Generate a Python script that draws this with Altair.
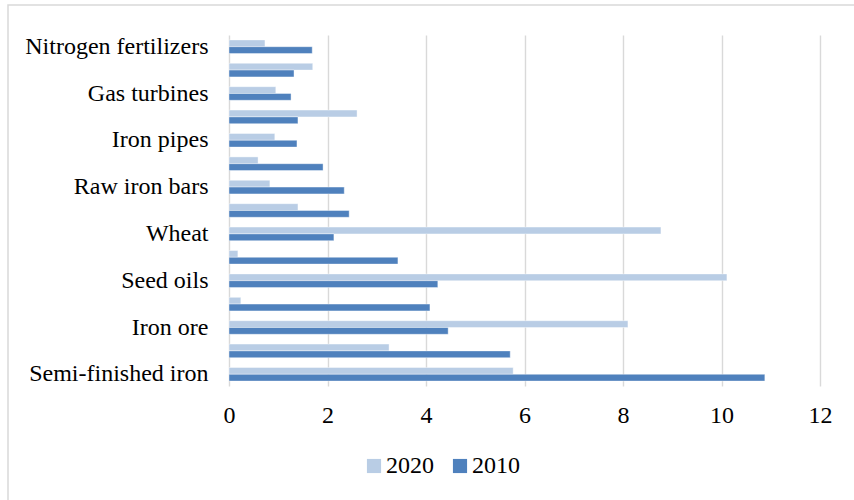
import altair as alt
import pandas as pd

# Rows from top to bottom; every other category label is not shown in the reference
row_labels = ["Nitrogen fertilizers", "", "Gas turbines", "", "Iron pipes", "",
              "Raw iron bars", "", "Wheat", "", "Seed oils", "", "Iron ore", "",
              "Semi-finished iron"]
values_2020 = [0.73, 1.70, 0.95, 2.60, 0.93, 0.59, 0.83, 1.40, 8.77, 0.18,
               10.11, 0.24, 8.10, 3.25, 5.77]
values_2010 = [1.69, 1.32, 1.26, 1.40, 1.38, 1.91, 2.34, 2.44, 2.13, 3.43,
               4.24, 4.08, 4.45, 5.71, 10.88]
years = ["2020", "2010"]
colors = ["#b9cde5", "#4f81bd"]
x_ticks = [0, 2, 4, 6, 8, 10, 12]

rows = []
for i in range(len(row_labels)):
    rows.append({"row": i, "year": "2020", "value": values_2020[i]})
    rows.append({"row": i, "year": "2010", "value": values_2010[i]})
df = pd.DataFrame(rows)

FONT = "Liberation Serif"
FS = 24
label_js = "[" + ",".join("'" + s + "'" for s in row_labels) + "]"

bars = alt.Chart(df).mark_bar(stroke="white", strokeWidth=0.4).encode(
    x=alt.X("value:Q",
            scale=alt.Scale(domain=[0, 12], nice=False),
            axis=alt.Axis(values=x_ticks, title=None, grid=True, gridColor="#d9d9d9",
                          gridWidth=1.4, domain=False, ticks=False, labelPadding=17,
                          labelFlush=False,
                          labelFont=FONT, labelFontSize=FS, labelColor="black")),
    y=alt.Y("row:O",
            scale=alt.Scale(paddingInner=0.42, paddingOuter=0.21),
            axis=alt.Axis(title=None, domain=False, ticks=False, grid=False,
                          labelExpr=label_js + "[datum.value]",
                          labelPadding=21, labelFont=FONT, labelFontSize=FS,
                          labelColor="black", labelLimit=400)),
    yOffset=alt.YOffset("year:N", sort=years),
    color=alt.Color("year:N", sort=years,
                    scale=alt.Scale(domain=years, range=colors),
                    legend=alt.Legend(title=None, orient="none", direction="horizontal",
                                      legendX=133, legendY=419, symbolType="square",
                                      symbolSize=200, symbolStrokeWidth=0,
                                      labelFont=FONT, labelFontSize=FS,
                                      labelColor="black", labelOffset=0,
                                      columnPadding=14)),
)

border = alt.Chart(pd.DataFrame({"k": [0]})).mark_rect(
    fill=None, stroke="#d9d9d9", strokeWidth=1.5
).encode(
    x=alt.value(-221), x2=alt.value(700),
    y=alt.value(-30), y2=alt.value(520),
)

chart = alt.layer(border, bars).properties(
    width=591, height=351,
    autosize=alt.AutoSizeParams(type="none"),
    padding={"left": 229, "top": 35, "right": 34, "bottom": 114},
).configure_view(stroke=None)

chart.save("out.html", embed_options={"renderer": "svg", "actions": False})
